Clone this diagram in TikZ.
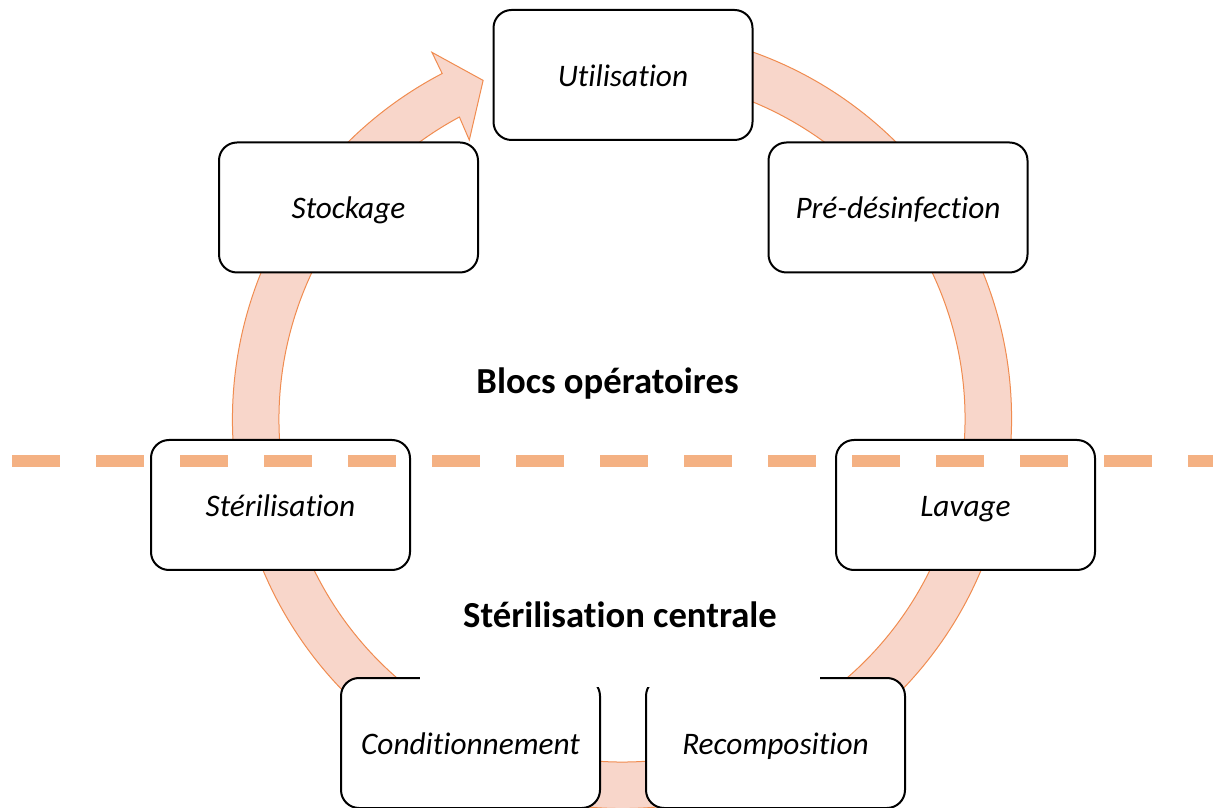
\documentclass[tikz,border=0pt]{standalone}
\usepackage{fontspec}
\setmainfont{Carlito}[Ligatures=NoCommon]
\usetikzlibrary{calc}
\definecolor{anneaufond}{RGB}{248,214,202}
\definecolor{anneaubord}{RGB}{240,140,80}
\definecolor{tirets}{RGB}{244,177,131}
\tikzset{
    etape/.style={
        draw, line width=1.5pt, fill=white, rounded corners=13.5pt,
        minimum width=194.25pt, minimum height=97.5pt,
        font=\fontsize{23.5}{28}\selectfont\itshape,
        text height=18.5pt, text depth=1.5pt
    },
    zone/.style={font=\fontsize{27.5}{33}\selectfont\bfseries},
    anneau/.style={fill=anneaufond, draw=anneaubord, line width=0.75pt},
    separation/.style={draw=tirets, line width=9pt, dash pattern=on 36pt off 27pt}
}
\begin{document}
\begin{tikzpicture}[x=0.75pt,y=0.75pt]
\useasboundingbox (0,0) rectangle (1213,807);
\coordinate (centre) at (622,388);
% fleche circulaire
\path[anneau] ($(centre)+(80:389.5)$) arc[start angle=80,end angle=-242.5,radius=389.5]
    -- ($(centre)+(-242.6:413)$) -- ($(centre)+(-247.7:366)$) -- ($(centre)+(-241.3:318)$)
    -- ($(centre)+(-241.7:343)$) arc[start angle=-241.7,end angle=80,radius=343] -- cycle;
% etapes
\node[etape] (util) at (623,732) {Utilisation};
\node[etape] (predes) at (898,599.5) {Pré-désinfection};
\node[etape] (lavage) at (965.5,302) {Lavage};
\node[etape] (recomp) at (775.5,64) {Recomposition};
\node[etape] (cond) at (470.5,64) {Conditionnement};
\node[etape] (steril) at (280.5,302) {Stérilisation};
\node[etape] (stock) at (348.5,599.5) {Stockage};
% zones
\node[zone] (blocs) at (607.5,423) {Blocs opératoires};
\node[zone,fill=white,minimum width=300pt,minimum height=108pt] (centrale) at (620,192) {Stérilisation centrale};
\coordinate (sep-g) at (12,346);
\coordinate (sep-d) at (1213,346);
\draw[separation] (sep-g) -- (sep-d);
\end{tikzpicture}
\end{document}
